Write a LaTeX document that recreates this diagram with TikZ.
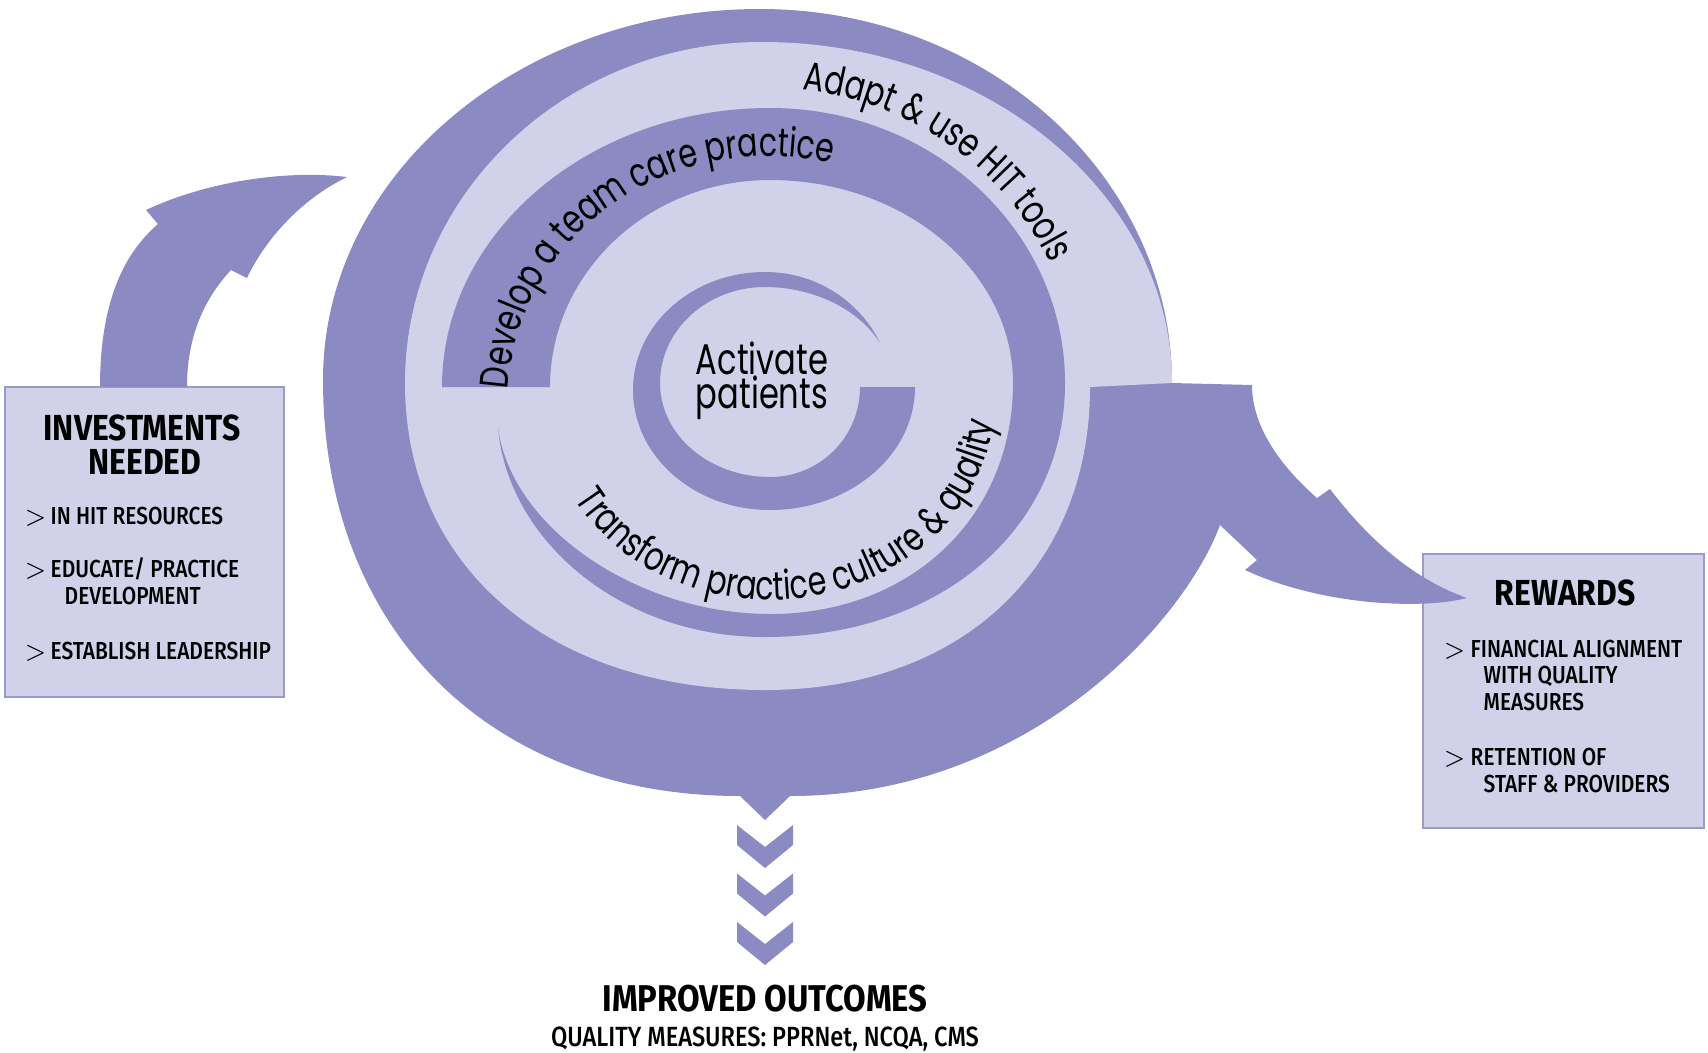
\documentclass[tikz,border=0pt]{standalone}
\usepackage{fontspec}
\setmainfont{Fira Sans}[FakeStretch=0.85]
\newfontfamily\headfont{Fira Sans}[FakeStretch=0.88]
\newfontfamily\itemfont{Fira Sans Medium}[FakeStretch=0.85]
\newfontfamily\spiralfont{Poppins}[FakeStretch=0.75]
\usetikzlibrary{decorations.text}

\definecolor{spiraldark}{HTML}{8B8AC2}
\definecolor{spirallight}{HTML}{D1D1E9}
\definecolor{boxline}{HTML}{9C9ACD}

\tikzset{
  band/.style = {fill=spiraldark},
  disc/.style = {fill=spirallight},
  infobox/.style = {
    draw=boxline, fill=spirallight, line width=0.6pt, inner sep=0pt
  },
  boxhead/.style = {
    font=\headfont\fontsize{10.3}{11}\selectfont\bfseries, anchor=base, inner sep=0pt
  },
  item/.style = {
    font=\itemfont\fontsize{7}{8}\selectfont, anchor=base west, inner sep=0pt
  },
  bulletsign/.style = {
    font=\fontsize{7}{8}\selectfont, anchor=base west, inner sep=0pt
  },
  centerlabel/.style = {
    font=\spiralfont\fontsize{12.2}{13}\selectfont, anchor=base, inner sep=0pt
  },
  pathlabel/.style = {
    decorate, decoration={text along path, text align=center,
      text={|\spiralfont\fontsize{11.4}{12}\selectfont|#1}}
  }
}

\begin{document}
\begin{tikzpicture}[x=0.1mm, y=-0.1mm]
  \useasboundingbox (0,0) rectangle (1708,1052);

  % Side boxes
  \node[infobox, minimum width=27.9mm, minimum height=31mm] (invest) at (144.5,542) {};
  \node[infobox, minimum width=28.1mm, minimum height=27.4mm] (rewards) at (1563.5,691) {};

  % Outer band of the spiral, running into the arrow to the rewards
  \fill[band] (1172,383) .. controls (1172,176) and (987,9) .. (760,9)
    .. controls (519,9) and (323,175) .. (323,380)
    .. controls (323,630) and (490,796) .. (740,796)
    -- (765,820) -- (790,796)
    .. controls (1030,796) and (1185,620) .. (1220,525)
    -- (1257,560) -- (1245,570)
    .. controls (1320,605) and (1420,610) .. (1467,598)
    .. controls (1410,578) and (1365,535) .. (1330,489)
    -- (1317,498)
    .. controls (1285,470) and (1252,430) .. (1252,385)
    -- cycle;

  % Light inside of the spiral
  \fill[disc] (1172,383) .. controls (1172,195) and (988,42) .. (762,42)
    .. controls (565,42) and (405,195) .. (405,383)
    .. controls (405,567) and (549,690) .. (765,690)
    .. controls (960,690) and (1090,569) .. (1090,387)
    -- cycle;

  % Middle band
  \fill[band] (442,387) .. controls (442,233) and (589,108) .. (770,108)
    .. controls (933,108) and (1065,231) .. (1065,383)
    .. controls (1065,530) and (939,637) .. (765,637)
    .. controls (620,637) and (508,540) .. (498,428)
    .. controls (512,530) and (640,614) .. (770,614)
    .. controls (911,614) and (1013,517) .. (1013,383)
    .. controls (1013,271) and (904,180) .. (770,180)
    .. controls (648,180) and (550,273) .. (550,387)
    -- cycle;

  % Inner band
  \fill[band] (880,343) .. controls (862,305) and (820,272) .. (765,272)
    .. controls (692,272) and (633,325) .. (633,390)
    .. controls (633,456) and (694,510) .. (770,510)
    .. controls (850,510) and (915,455) .. (915,387)
    -- (860,387)
    .. controls (860,437) and (820,477) .. (770,477)
    .. controls (709,477) and (660,435) .. (660,383)
    .. controls (660,330) and (707,287) .. (765,287)
    .. controls (812,287) and (858,308) .. (880,343)
    -- cycle;

  % Arrow from the investments
  \fill[band] (100,387) .. controls (100,305) and (122,255) .. (158,224)
    -- (146,210)
    .. controls (210,180) and (290,170) .. (347,177)
    .. controls (300,200) and (265,240) .. (247,278)
    -- (231,270)
    .. controls (205,298) and (187,335) .. (187,387)
    -- cycle;

  % Chevrons down to the outcomes
  \foreach \k in {0,1,2} {
    \pgfmathsetmacro\ytop{825+48.5*\k}
    \fill[band] (737,\ytop) -- (765,\ytop+22) -- (793,\ytop) -- (793,\ytop+20)
      -- (765,\ytop+43) -- (737,\ytop+20) -- cycle;
  }

  % Labels along the spiral
  \path[pathlabel={Adapt {\&} use HIT tools}]
    plot[variable=\t, domain=0:80, samples=60] ({770+312*cos(95-\t)}, {400-312*sin(95-\t)});
  \path[pathlabel={Develop a team care practice}]
    plot[variable=\t, domain=0:110, samples=80] ({770+262*cos(182-\t)}, {400-244*sin(182-\t)});
  \path[pathlabel={Transform practice culture {\&} quality}]
    plot[variable=\t, domain=197:367, samples=90] ({770+225*cos(\t)}, {400-200*sin(\t)});

  \node[centerlabel] (activate) at (762,374) {Activate};
  \node[centerlabel] (patients) at (762,408) {patients};

  % Investments text
  \node[boxhead] (investhead) at (142,440) {INVESTMENTS};
  \node[boxhead] (investhead2) at (145,474) {NEEDED};
  \node[bulletsign] (invsign1) at (24,524) {$>$};
  \node[item] (inv1) at (50,524) {IN HIT RESOURCES};
  \node[bulletsign] (invsign2) at (24,577) {$>$};
  \node[item] (inv2) at (50,577) {EDUCATE/ PRACTICE};
  \node[item] (inv2b) at (64,604) {DEVELOPMENT};
  \node[bulletsign] (invsign3) at (24,659) {$>$};
  \node[item] (inv3) at (50,659) {ESTABLISH LEADERSHIP};

  % Rewards text
  \node[boxhead] (rewardshead) at (1565,605) {REWARDS};
  \node[bulletsign] (rewsign1) at (1443,657) {$>$};
  \node[item] (rew1) at (1470,657) {FINANCIAL ALIGNMENT};
  \node[item] (rew1b) at (1483,683) {WITH QUALITY};
  \node[item] (rew1c) at (1483,710) {MEASURES};
  \node[bulletsign] (rewsign2) at (1443,765) {$>$};
  \node[item] (rew2) at (1470,765) {RETENTION OF};
  \node[item] (rew2b) at (1483,792) {STAFF \& PROVIDERS};

  % Outcomes text
  \node[boxhead, font=\headfont\fontsize{10.6}{11}\selectfont\bfseries] (outcomes)
    at (765,1011) {IMPROVED OUTCOMES};
  \node[item, anchor=base, font=\itemfont\fontsize{7.9}{9}\selectfont] (measures)
    at (765,1046) {QUALITY MEASURES: PPRNet, NCQA, CMS};
\end{tikzpicture}
\end{document}
